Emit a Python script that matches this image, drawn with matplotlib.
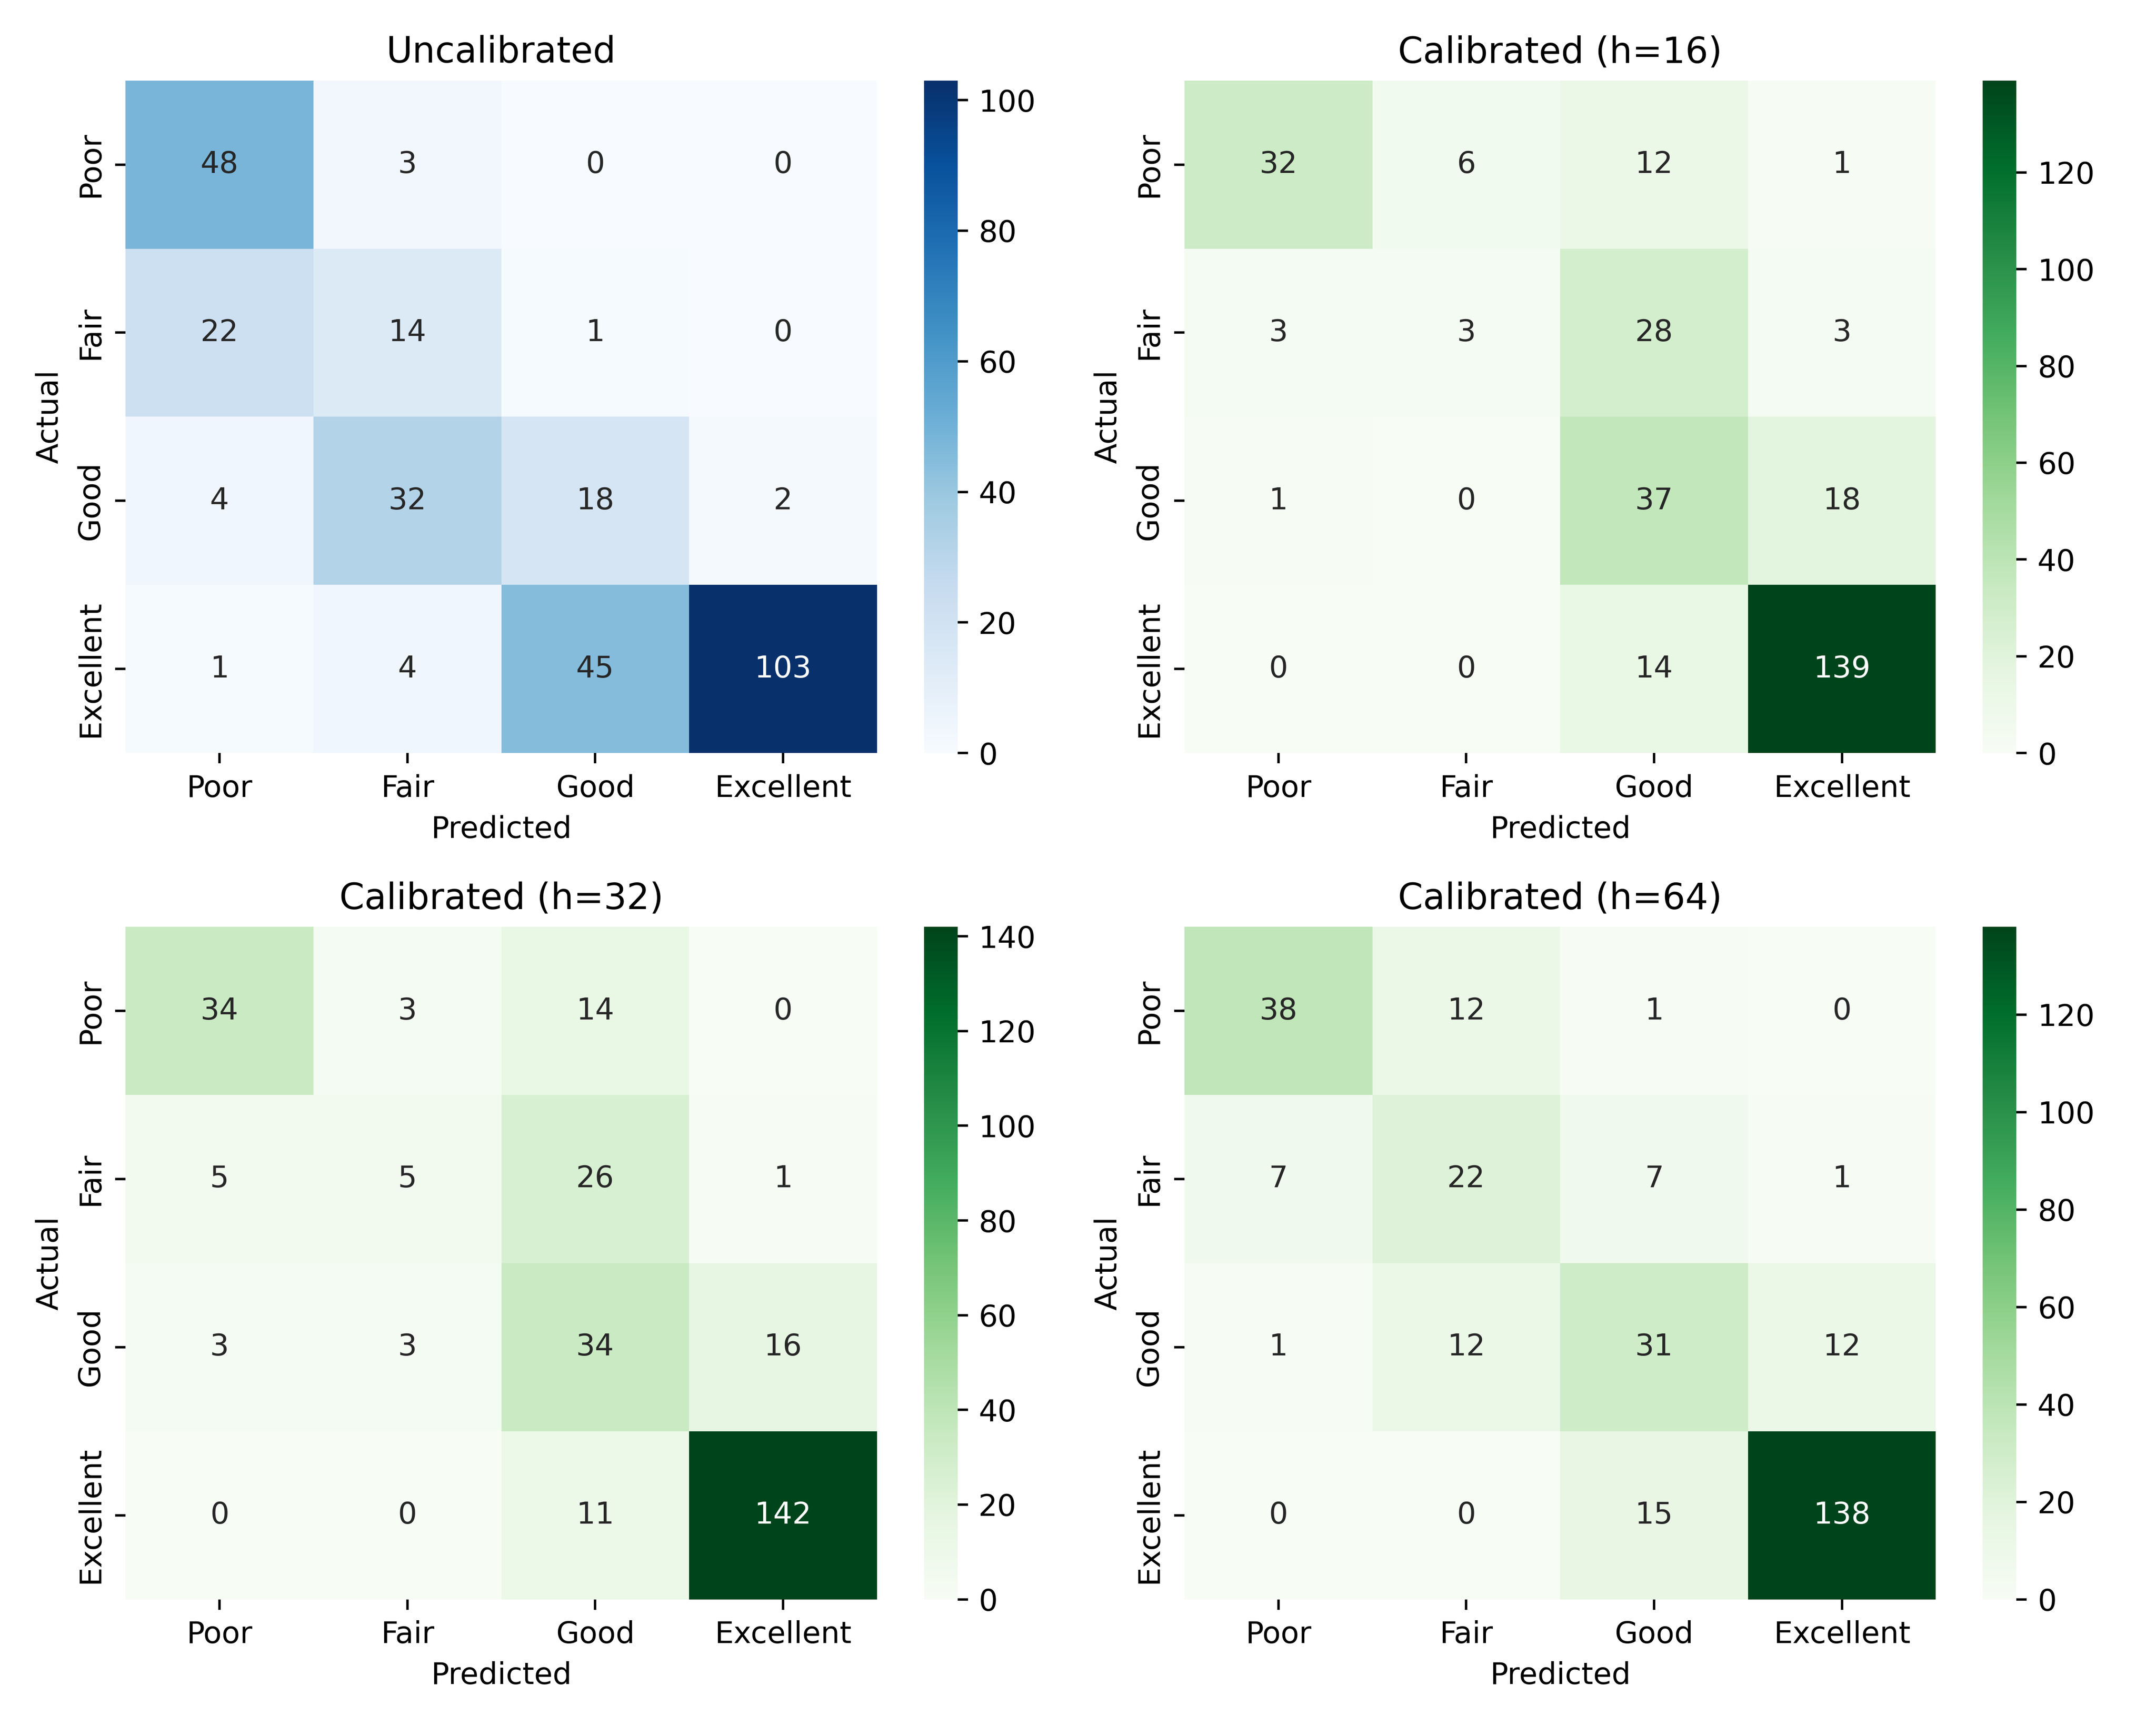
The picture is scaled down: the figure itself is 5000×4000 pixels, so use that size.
import numpy as np
import matplotlib
matplotlib.use("Agg")
import matplotlib.pyplot as plt
import seaborn as sns

labels = ["Poor", "Fair", "Good", "Excellent"]

cm_uncal = [[48, 3, 0, 0],
            [22, 14, 1, 0],
            [4, 32, 18, 2],
            [1, 4, 45, 103]]
cm_h16 = [[32, 6, 12, 1],
          [3, 3, 28, 3],
          [1, 0, 37, 18],
          [0, 0, 14, 139]]
cm_h32 = [[34, 3, 14, 0],
          [5, 5, 26, 1],
          [3, 3, 34, 16],
          [0, 0, 11, 142]]
cm_h64 = [[38, 12, 1, 0],
          [7, 22, 7, 1],
          [1, 12, 31, 12],
          [0, 0, 15, 138]]

titles = ["Uncalibrated", "Calibrated (h=16)", "Calibrated (h=32)", "Calibrated (h=64)"]
matrices = [cm_uncal, cm_h16, cm_h32, cm_h64]
cmaps = ["Blues", "Greens", "Greens", "Greens"]

fig, axes = plt.subplots(2, 2, figsize=(10, 8))
for ax, cm, title, cmap in zip(axes.flat, matrices, titles, cmaps):
    sns.heatmap(np.array(cm), annot=True, fmt="d", cmap=cmap, ax=ax,
                xticklabels=labels, yticklabels=labels)
    ax.set_title(title)
    ax.set_xlabel("Predicted")
    ax.set_ylabel("Actual")

plt.tight_layout()
plt.savefig("out.png", dpi=500)
